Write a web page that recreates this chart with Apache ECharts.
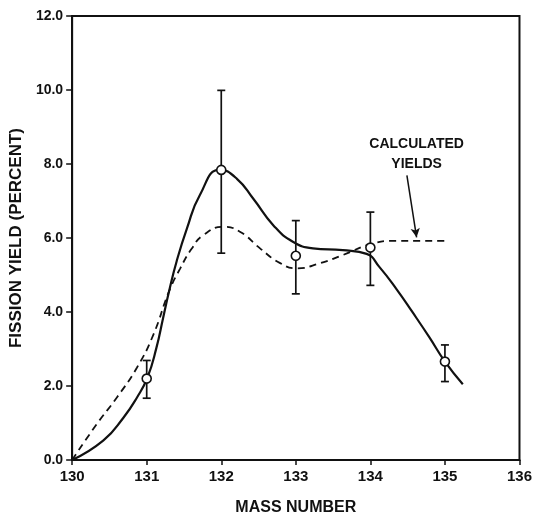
<!DOCTYPE html>
<html>
<head>
<meta charset="utf-8">
<script src="https://cdn.jsdelivr.net/npm/echarts@6/dist/echarts.min.js"></script>
<style>
html,body{margin:0;padding:0;background:#fff;}
#chart{width:535px;height:521px;}
</style>
</head>
<body>
<div id="chart"></div>
<script>
// Measured fission yields with error bars
const massNumbers   = [131, 132, 133, 134, 135];
const measuredYield = [2.20, 7.84, 5.52, 5.74, 2.66];
const errLow        = [1.67, 5.59, 4.49, 4.72, 2.12];
const errHigh       = [2.69, 9.99, 6.47, 6.70, 3.11];

// Solid curve drawn through the measured points
const fitX = [130, 130.42, 130.69, 130.87, 131.01, 131.13, 131.22, 131.30, 131.40, 131.54, 131.71, 131.98, 132.21, 132.43, 132.70, 132.96, 133.23, 133.63, 133.95, 134.12, 134.35, 134.57, 134.79, 135.0, 135.24];
const fitY = [0, 0.53, 1.15, 1.69, 2.23, 3.03, 3.84, 4.56, 5.36, 6.26, 7.15, 7.85, 7.60, 7.06, 6.34, 5.90, 5.72, 5.67, 5.57, 5.22, 4.62, 3.98, 3.32, 2.66, 2.05];

// Dashed curve: calculated yields
const calcX = [130, 130.33, 130.60, 130.87, 131.09, 131.30, 131.45, 131.60, 131.76, 132.03, 132.25, 132.52, 132.79, 133.01, 133.33, 133.63, 134.03, 134.30, 135.04];
const calcY = [0, 0.97, 1.69, 2.50, 3.39, 4.56, 5.18, 5.70, 6.08, 6.30, 6.17, 5.72, 5.32, 5.18, 5.32, 5.54, 5.85, 5.92, 5.92];

const xTicks = [130, 131, 132, 133, 134, 135, 136];
const yTicks = [0, 2, 4, 6, 8, 10, 12];
const annotationText = ['CALCULATED', 'YIELDS'];

const INK = '#111';
const FONT = 'Liberation Sans';

const chart = echarts.init(document.getElementById('chart'), null, {renderer: 'canvas'});

const zip = (a, b) => a.map((v, i) => [v, b[i]]);

const option = {
  backgroundColor: '#fff',
  animation: false,
  grid: {left: 72, right: 15, top: 16, bottom: 58, show: true, borderColor: INK, borderWidth: 2, backgroundColor: 'transparent'},
  xAxis: {
    type: 'value', min: xTicks[0], max: xTicks[xTicks.length - 1], interval: 1,
    name: 'MASS NUMBER', nameLocation: 'middle', nameGap: 40,
    nameTextStyle: {fontFamily: FONT, fontWeight: 'bold', fontSize: 16, color: INK},
    axisLine: {lineStyle: {color: INK, width: 2}},
    axisTick: {inside: false, length: 5, lineStyle: {color: INK, width: 1.5}},
    axisLabel: {fontFamily: FONT, fontWeight: 'bold', fontSize: 15, color: INK, margin: 9},
    splitLine: {show: false}
  },
  yAxis: {
    type: 'value', min: yTicks[0], max: yTicks[yTicks.length - 1], interval: 2,
    name: 'FISSION YIELD (PERCENT)', nameLocation: 'middle', nameGap: 44, nameRotate: 90,
    nameTextStyle: {fontFamily: FONT, fontWeight: 'bold', fontSize: 17, color: INK},
    axisLine: {lineStyle: {color: INK, width: 2}},
    axisTick: {inside: false, length: 6, lineStyle: {color: INK, width: 1.5}},
    axisLabel: {fontFamily: FONT, fontWeight: 'bold', fontSize: 14, color: INK, margin: 9,
      formatter: v => v.toFixed(1)},
    splitLine: {show: false}
  },
  series: [
    {
      type: 'line', name: 'fit', data: zip(fitX, fitY), smooth: 0.5, symbol: 'none',
      lineStyle: {color: INK, width: 2.2}, z: 2
    },
    {
      type: 'line', name: 'calc', data: zip(calcX, calcY), smooth: 0.5, symbol: 'none',
      lineStyle: {color: INK, width: 1.8, type: [7, 5]}, z: 2,
      markLine: {
        silent: true, symbol: ['none', 'arrow'], symbolSize: [7, 9],
        lineStyle: {color: INK, width: 1.5, type: 'solid'},
        label: {show: false},
        data: [[{coord: [134.49, 7.69]}, {coord: [134.62, 6.02]}]]
      },
      markPoint: {
        silent: true,
        data: [{
          coord: [134.62, 8.27], symbol: 'circle', symbolSize: 1,
          itemStyle: {color: 'rgba(0,0,0,0)'},
          label: {show: true, position: 'inside', formatter: annotationText.join('\n'),
            fontFamily: FONT, fontWeight: 'bold', fontSize: 14, color: INK, lineHeight: 20, align: 'center'}
        }]
      }
    },
    {
      type: 'custom', name: 'errors',
      data: massNumbers.map((m, i) => [m, errLow[i], errHigh[i]]),
      encode: {x: 0, y: [1, 2]},
      renderItem: (params, api) => {
        const x = api.value(0);
        const top = api.coord([x, api.value(2)]);
        const bot = api.coord([x, api.value(1)]);
        const w = 4;
        const st = {stroke: INK, lineWidth: 1.7};
        return {type: 'group', children: [
          {type: 'line', shape: {x1: top[0], y1: top[1], x2: bot[0], y2: bot[1]}, style: st},
          {type: 'line', shape: {x1: top[0] - w, y1: top[1], x2: top[0] + w, y2: top[1]}, style: st},
          {type: 'line', shape: {x1: bot[0] - w, y1: bot[1], x2: bot[0] + w, y2: bot[1]}, style: st}
        ]};
      },
      z: 3
    },
    {
      type: 'scatter', name: 'measured', data: zip(massNumbers, measuredYield),
      symbol: 'circle', symbolSize: 9,
      itemStyle: {color: '#fff', borderColor: INK, borderWidth: 1.6, opacity: 1}, z: 5
    }
  ]
};
chart.setOption(option);
</script>
</body>
</html>
